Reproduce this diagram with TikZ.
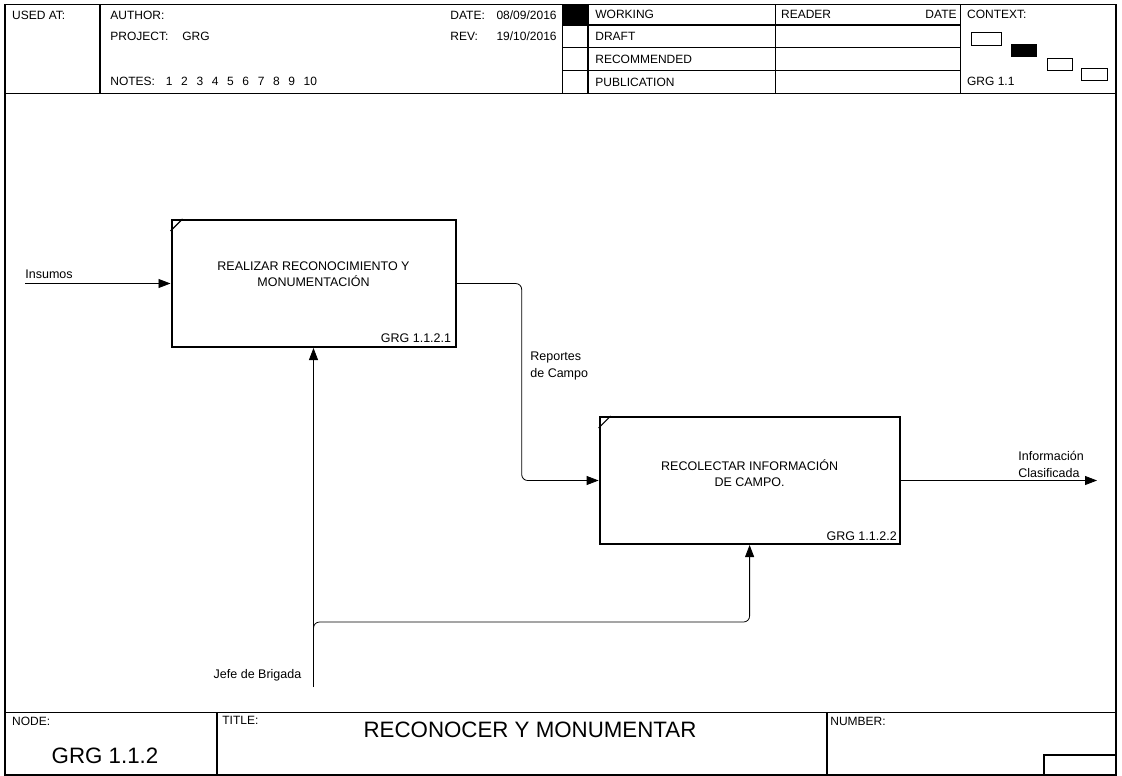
\documentclass[tikz,border=0pt]{standalone}
\usepackage{fontspec}
\setmainfont{Liberation Sans}
\usetikzlibrary{positioning, arrows.meta}

\begin{document}
\begin{tikzpicture}[x=1pt, y=-1pt, line width=0.8pt]
    % Define styles
    \tikzstyle{activity} = [rectangle, draw, line width=2pt, minimum width=284pt, minimum height=127pt]
    \tikzstyle{acttext} = [inner sep=0pt, align=center, font=\fontsize{12.5}{16}\selectfont]
    \tikzstyle{actnum} = [inner sep=0pt, anchor=base east, font=\fontsize{12.5}{15}\selectfont]
    \tikzstyle{flowlabel} = [inner sep=0pt, align=left, font=\fontsize{12.5}{16.5}\selectfont]
    \tikzstyle{formtext} = [inner sep=0pt, anchor=base west, font=\fontsize{12}{14}\selectfont]
    \tikzstyle{bigtext} = [inner sep=0pt, anchor=base, font=\fontsize{22.3}{26}\selectfont]
    \tikzstyle{frame} = [line width=1.5pt]
    \tikzstyle{rule} = [line width=1.1pt]
    \tikzstyle{arrow} = [->, >={Triangle[length=12pt, width=9pt]}]

    \useasboundingbox (0,0) rectangle (1122,776);

    % FORM (header and footer)
    \draw [frame] (5,4.5) rectangle (1116,775);
    \draw [rule] (5,93.3) -- (1116,93.3);
    \draw [rule] (100,4.5) -- (100,93.3);
    \draw [rule] (562.7,4.5) -- (562.7,93.3);
    \draw [rule] (588,4.5) -- (588,93.3);
    \draw [rule] (775.5,4.5) -- (775.5,93.3);
    \draw [rule] (960.7,4.5) -- (960.7,93.3);
    \draw [rule] (562.7,25) -- (960.7,25);
    \draw [rule] (562.7,47.3) -- (960.7,47.3);
    \draw [rule] (562.7,70.7) -- (960.7,70.7);
    \fill (562.7,4.5) rectangle (588,25);

    \node (usedat) [formtext] at (11.7,19.3) {USED AT:};
    \node (author) [formtext] at (110,19.3) {AUTHOR:};
    \node (project) [formtext] at (110,41) {PROJECT:};
    \node (projectval) [formtext] at (182,41) {GRG};
    \node (notes) [formtext] at (110,85.3) {NOTES:};
    \node (notesval) [formtext] at (165.5,85.3) {\spaceskip=0.72em\relax 1 2 3 4 5 6 7 8 9 10};
    \node (date) [formtext] at (450,19.3) {DATE:};
    \node (dateval) [formtext, anchor=base east] at (557,19.3) {08/09/2016};
    \node (rev) [formtext] at (450,41) {REV:};
    \node (revval) [formtext, anchor=base east] at (557,41) {19/10/2016};

    \node (working) [formtext] at (595,18.5) {WORKING};
    \node (draft) [formtext] at (595,40.7) {DRAFT};
    \node (recommended) [formtext] at (595,63.3) {RECOMMENDED};
    \node (publication) [formtext] at (595,86) {PUBLICATION};
    \node (reader) [formtext] at (780.7,18.5) {READER};
    \node (readerdate) [formtext, anchor=base east] at (957,18.5) {DATE};

    \node (context) [formtext] at (966.7,19) {CONTEXT:};
    \node (contextid) [formtext] at (966.7,85) {GRG 1.1};
    \draw (971.7,32.5) rectangle (1001,45.5);
    \fill (1010.7,44.3) rectangle (1037.3,56.7);
    \draw (1047,58.5) rectangle (1072.7,70);
    \draw (1081.7,68.5) rectangle (1107.3,80);

    \draw [rule] (5,712.7) -- (1116,712.7);
    \draw [rule] (217,712.7) -- (217,775);
    \draw [rule] (827,712.7) -- (827,775);
    \draw [rule] (1044,775) |- (1116,755);
    \node (nodelbl) [formtext] at (11.7,725.5) {NODE:};
    \node (titlelbl) [formtext] at (222,724.5) {TITLE:};
    \node (numberlbl) [formtext] at (830,725) {NUMBER:};
    \node (nodeid) [bigtext] at (105,763) {GRG 1.1.2};
    \node (title) [bigtext] at (530,737) {RECONOCER Y MONUMENTAR};

    % ACTIVITIES
    \node (act1) [activity] at (313.5,283.5) {};
    \node (act1txt) [acttext, below=42.5pt of act1.north] {REALIZAR RECONOCIMIENTO Y\\MONUMENTACIÓN};
    \node (act1num) [actnum] at ([xshift=-5pt, yshift=5.3pt]act1.south east) {GRG 1.1.2.1};
    \draw [line width=1.1pt] ([yshift=-12pt]act1.north west) -- ([xshift=12pt]act1.north west);

    \node (act2) [activity, minimum width=300pt] at (749.6,480.5) {};
    \node (act2txt) [acttext, below=43.5pt of act2.north] {RECOLECTAR INFORMACIÓN\\DE CAMPO.};
    \node (act2num) [actnum] at ([xshift=-3.5pt, yshift=5pt]act2.south east) {GRG 1.1.2.2};
    \draw [line width=1.1pt] ([yshift=-12pt]act2.north west) -- ([xshift=12pt]act2.north west);

    % Arrows
    \coordinate (insumos) at (25,283.5);
    \draw [arrow] (insumos) -- (act1.west);
    \node (insumoslbl) [flowlabel, anchor=base west] at (25,278) {Insumos};

    \coordinate (reportes) at (521.7,380);
    \draw [arrow, rounded corners=6pt] (act1.east) -| (reportes) |- (act2.west);
    \node (reporteslbl) [flowlabel, anchor=north west] at (530,351.5) {Reportes\\de Campo};

    \coordinate (infoclas) at (1097,480.5);
    \draw [arrow] (act2.east) -- (infoclas);
    \node (infolbl) [flowlabel, anchor=north west] at (1018,451) {Información\\Clasificada};

    \coordinate (jefe) at (313.5,687);
    \coordinate (split) at (313.5,640);
    \coordinate (ctrlrow) at (313.5,622);
    \draw [arrow] (jefe) -- (act1.south);
    \draw [arrow, rounded corners=6pt] (split) |- (act2.south |- ctrlrow) -- (act2.south);
    \node (jefelbl) [flowlabel, anchor=base east] at (301.7,678) {Jefe de Brigada};

\end{tikzpicture}
\end{document}
